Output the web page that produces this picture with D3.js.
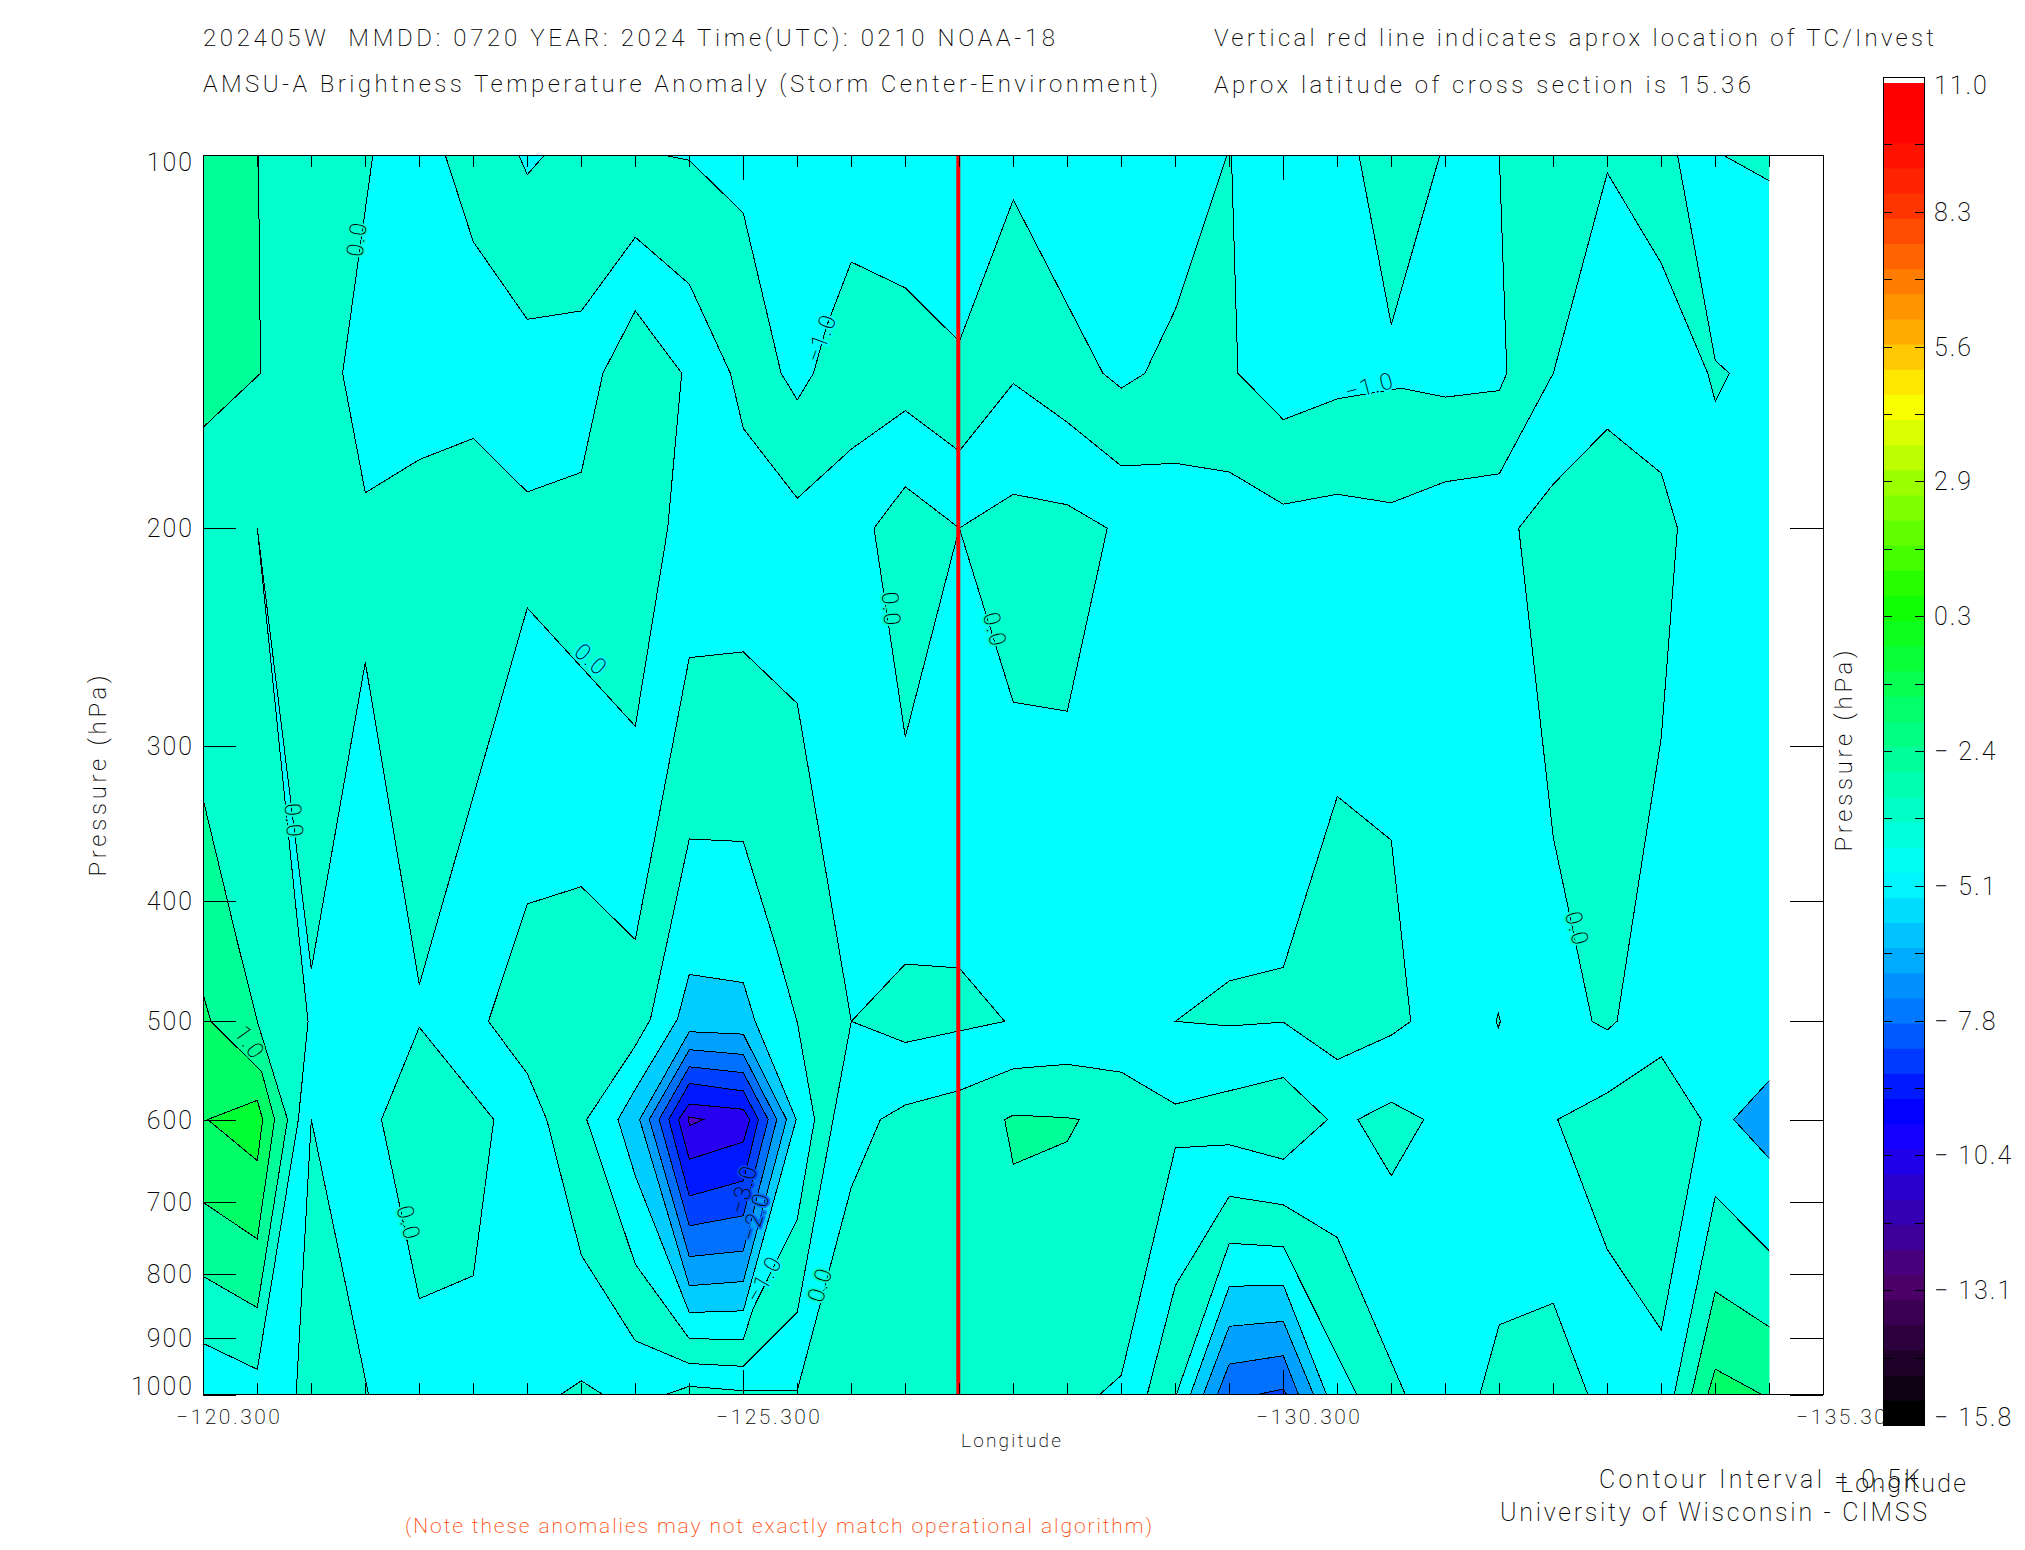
<!DOCTYPE html>
<html>
<head>
<meta charset="utf-8">
<script src="https://cdn.jsdelivr.net/npm/d3@7"></script>
<style>
html, body { margin: 0; padding: 0; background: white; }
svg { display: block; }
text { font-family: Roboto, "Liberation Sans", sans-serif; font-weight: 200; fill: black; white-space: pre; }
</style>
</head>
<body>
<script>
// tick labels
let pressureTicks = [100, 200, 300, 400, 500, 600, 700, 800, 900, 1000];
let lonLabels = [-120.3, -125.3, -130.3, -135.3];
let lonMinorTicks = [-120.8, -121.3, -121.8, -122.3, -122.8, -123.3, -123.8, -124.3, -124.8, -125.8, -126.3, -126.8, -127.3, -127.8, -128.3, -128.8, -129.3, -129.8, -130.8, -131.3, -131.8, -132.3, -132.8, -133.3, -133.8, -134.3, -134.8];
let colorbarLabels = [11.0, 8.3, 5.6, 2.9, 0.3, -2.4, -5.1, -7.8, -10.4, -13.1, -15.8];
let colorbarTicks = [9.66, 8.32, 6.98, 5.64, 4.3, 2.96, 1.62, 0.28, -1.06, -2.4, -3.74, -5.08, -6.42, -7.76, -9.1, -10.44, -11.78, -13.12, -14.46];
let stormLon = -127.3;

// contour regions, [longitude, hPa]. first group is the 0 / -1 band
let bandAqua = [
    // big area on the left
    [[-120, 95], [-121.87, 95], [-121.87, 100], [-121.59, 150], [-121.8, 187.3], [-122.3, 176.1], [-122.8, 169.3], [-123.3, 187], [-123.8, 180.3], [-124, 150], [-124.3, 133.6], [-124.73, 150], [-124.6, 200], [-124.3, 289], [-123.3, 232], [-122.3, 467], [-121.8, 256.6], [-121.3, 453.9], [-120.8, 200], [-121.15, 399], [-121.27, 500], [-121.18, 600], [-120.8, 954.3], [-120.3, 909.6], [-120, 895]],
    // top band
    [[-122.54, 95], [-122.54, 100], [-122.8, 117.5], [-123.3, 135.7], [-123.8, 133.6], [-124.3, 116.5], [-124.8, 127.1], [-125.18, 150], [-125.3, 166.2], [-125.8, 189.2], [-126.3, 172.7], [-126.8, 160.8], [-127.3, 173.3], [-127.8, 152.9], [-128.3, 164.3], [-128.8, 178.2], [-129.3, 177.3], [-129.8, 180.2], [-130.3, 191.3], [-130.8, 187.8], [-131.3, 190.8], [-131.8, 183.5], [-132.3, 180.8], [-132.8, 150], [-133.3, 103.4], [-133.8, 122.3], [-134.23, 150], [-134.3, 158], [-134.43, 150], [-134.3, 146.5], [-133.95, 100], [-133.95, 95], [-132.3, 95], [-132.3, 100], [-132.37, 150], [-132.3, 154.9], [-131.8, 156.8], [-131.39, 154.2], [-130.8, 157.3], [-130.3, 163.5], [-129.88, 150], [-129.82, 100], [-129.82, 95], [-129.78, 95], [-129.78, 100], [-129.3, 133.3], [-129.07, 146.75], [-129.02, 150], [-128.8, 154.2], [-128.63, 150], [-127.8, 108.7], [-127.3, 141.4], [-126.8, 128], [-126.3, 122], [-126.07, 137.5], [-125.95, 150], [-125.8, 157.6], [-125.65, 150], [-125.3, 111.4], [-124.8, 101], [-124.56, 100], [-124.56, 95], [-123.46, 95], [-123.46, 100], [-123.3, 103.7], [-123.22, 100], [-123.22, 95]],
    [[-131, 95], [-131, 100], [-131.3, 137.1], [-131.75, 100], [-131.75, 95]],
    [[-134.37, 95], [-134.37, 100], [-134.8, 104.9], [-135.2, 109.5], [-135.2, 95]],
    // around the red line
    [[-126.51, 200], [-126.8, 185.2], [-127.3, 200], [-126.8, 294.8]],
    [[-127.3, 200], [-127.8, 187.8], [-128.3, 191.5], [-128.67, 200], [-128.3, 281], [-127.8, 276.4]],
    [[-126.3, 500], [-126.8, 449.5], [-127.3, 452.8], [-127.72, 500], [-127.3, 509], [-126.8, 520]],
    // right side
    [[-132.48, 200], [-132.8, 184.3], [-133.3, 166.4], [-133.8, 180.6], [-133.95, 200], [-133.8, 295.1], [-133.39, 500], [-133.3, 508], [-133.16, 500], [-132.8, 355.4]],
    [[-129.3, 500], [-129.8, 463.8], [-130.3, 452.3], [-130.8, 329.2], [-131.3, 357.1], [-131.48, 500], [-131.3, 513], [-130.8, 536.8], [-130.3, 500.7], [-129.8, 504.3]],
    [[-132.27, 500], [-132.29, 492.5], [-132.31, 500], [-132.29, 506]],
    // ring round the storm
    [[-122.94, 500], [-123.3, 402], [-123.8, 389.3], [-124.3, 429.5], [-124.8, 254.4], [-125.3, 251.7], [-125.8, 277], [-126.3, 500], [-125.8, 858], [-125.3, 949], [-124.8, 944], [-124.3, 905], [-123.8, 772], [-123.48, 600], [-123.3, 551]],
    [[-121.95, 600], [-122.3, 505.5], [-122.99, 600], [-122.8, 802], [-122.3, 837]],
    [[-121.16, 1050], [-121.16, 1000], [-121.3, 600], [-121.83, 1000], [-121.83, 1050]],
    [[-123.61, 1050], [-123.61, 1000], [-123.8, 975], [-124, 1000], [-124, 1050]],
    // lower middle
    [[-124.58, 1050], [-124.58, 1000], [-124.8, 985], [-125.3, 993], [-125.8, 992], [-126.3, 680.6], [-126.57, 600], [-126.8, 584], [-127.3, 568.5], [-127.8, 546], [-128.3, 541.5], [-128.8, 549.5], [-129.3, 583], [-130.3, 555], [-130.71, 600], [-130.3, 646], [-129.8, 628.8], [-129.3, 632.4], [-128.8, 965], [-128.6, 1000], [-128.6, 1050]],
    [[-129.04, 1050], [-129.04, 1000], [-129.3, 817], [-129.8, 692], [-130.3, 703], [-130.8, 747], [-131.43, 1000], [-131.43, 1050]],
    [[-132.12, 1050], [-132.12, 1000], [-132.3, 878.5], [-132.8, 844], [-133.12, 1000], [-133.12, 1050]],
    [[-130.99, 600], [-131.3, 581], [-131.6, 600], [-131.3, 666]],
    [[-132.84, 600], [-133.3, 571], [-133.8, 534], [-134.17, 600], [-133.8, 887], [-133.3, 764]],
    [[-133.92, 1050], [-133.92, 1000], [-134.3, 692], [-134.8, 766], [-135.2, 823], [-135.2, 1050]]
];
let bandSpring = [
    [[-120, 95], [-120.81, 95], [-120.81, 100], [-120.83, 150], [-120.3, 165.8], [-120, 175.8]],
    [[-120, 258], [-120.61, 429.5], [-120.8, 500], [-121.08, 600], [-120.8, 851], [-120.3, 803], [-120, 770]],
    [[-127.72, 600], [-127.8, 595], [-128.3, 598], [-128.41, 600], [-128.3, 625], [-127.8, 652]],
    [[-134.08, 1050], [-134.08, 1000], [-134.3, 826], [-134.8, 882], [-135.2, 929], [-135.2, 1050]]
];
let bandGreen = [
    [[-120, 386], [-120.37, 500], [-120.84, 549], [-120.96, 600], [-120.8, 749], [-120.3, 700], [-120, 678]],
    [[-134.23, 1050], [-134.23, 1000], [-134.3, 954], [-134.73, 1000], [-134.73, 1050]]
];
let bandLime = [
    [[-120.34, 600], [-120.8, 579], [-120.85, 600], [-120.8, 647.6]]
];
let bandCyanInner = [
    [[-124.8, 356.3], [-125.3, 358], [-125.61, 437.4], [-125.8, 501], [-125.96, 600], [-125.8, 722], [-125.39, 852.6], [-125.3, 903], [-124.8, 901.5], [-124.3, 785], [-123.85, 600], [-124.3, 523.3], [-124.44, 498], [-124.58, 437.4]],
    [[-129.31, 1050], [-129.31, 1000], [-129.8, 755], [-130.3, 760], [-130.98, 1000], [-130.98, 1050]]
];
let bandSky = [
    [[-124.8, 458.2], [-125.3, 465.3], [-125.41, 500], [-125.79, 600], [-125.3, 856], [-124.8, 858.7], [-124.3, 666.3], [-124.14, 600], [-124.3, 567.3], [-124.69, 498]],
    [[-129.44, 1050], [-129.44, 1000], [-129.8, 818], [-130.3, 816], [-130.7, 1000], [-130.7, 1050]]
];
let bandAzure = [
    [[-124.8, 509.7], [-125.3, 512], [-125.7, 600], [-125.3, 810.7], [-124.8, 817], [-124.34, 600]],
    [[-129.56, 1050], [-129.56, 1000], [-129.8, 881], [-130.3, 873], [-130.58, 1000], [-130.58, 1050]],
    [[-135.2, 519], [-134.8, 558], [-134.47, 600], [-134.8, 645], [-135.2, 711]]
];
let bandBlue1 = [
    [[-124.8, 527], [-125.3, 531.7], [-125.61, 600], [-125.3, 766], [-124.8, 774], [-124.43, 600]],
    [[-129.69, 1050], [-129.69, 1000], [-129.8, 945], [-130.3, 930.5], [-130.44, 1000], [-130.44, 1050]]
];
let bandBlue2 = [
    [[-124.8, 544], [-125.3, 550], [-125.53, 600], [-125.3, 717.5], [-124.8, 731], [-124.52, 600]],
    [[-130.06, 1050], [-130.06, 1000], [-130.3, 990], [-130.33, 1000], [-130.33, 1050]]
];
let bandBlue3 = [
    [[-124.8, 561], [-125.3, 569], [-125.44, 600], [-125.3, 672.5], [-124.8, 691.6], [-124.61, 600]]
];
let bandIndigo = [
    [[-124.8, 583], [-125.3, 588.7], [-125.36, 600], [-125.3, 625.5], [-124.8, 646], [-124.7, 600]]
];
let bandViolet = [
    [[-124.79, 597], [-124.93, 600], [-124.8, 607]]
];

// contour labels
let contourLabels = ['0.0', '\u22121.0', '\u22121.0', '0.0', '0.0', '0.0', '0.0', '1.0', '0.0', '0.0', '0.0', '\u22121.0', '\u22122.0', '\u22123.0'];
let contourLabelLon = [-121.72, -126.02, -131.1, -123.89, -126.67, -127.63, -121.14, -120.73, -133.02, -122.2, -126.01, -125.49, -125.41, -125.3];
let contourLabelHpa = [116.9, 140.5, 153.6, 255.3, 232.5, 241.5, 344.4, 520, 421, 727, 815.5, 807, 718.5, 683];
let contourLabelAngle = [-82, -70, -15, 42, 85, 75, 85, 55, 75, 75, -72, -60, -73, -75];
let contourLabelGap = ['#00ffcc', '#00ffff', '#00ffff', '#00ffff', '#00ffcc', '#00ffcc', '#00ffcc', '#00ff99', '#00ffcc', '#00ffcc', '#00ffcc', '#00ffff', '#0070ff', '#0040ff'];

// colorbar colour stops
let stopValues = [-15.8, -13.1, -10.4, -9.7, -7.8, -5.1, -2.4, 0.3, 2.9, 4.3, 5.6, 8.3, 9.8, 10.8];
let stopColors = ['#000000', '#50006e', '#1800ff', '#0000ff', '#0078ff', '#00ffff', '#00ff88', '#10ff00', '#a8ff00', '#ffff00', '#ffb000', '#ff3000', '#ff0000', '#ff0000'];

let svg = d3.select('body')
    .append('svg')
    .attr('width', 2025)
    .attr('height', 1550);

let plotLeft = 203.3, plotRight = 1823.3, plotTop = 155, plotBottom = 1394.5;

let x = d3.scaleLinear().domain([-120.3, -135.3]).range([plotLeft, plotRight]);
let y = d3.scaleLog().domain([100, 1000]).range([plotTop, plotBottom]);

let line = d3.line()
    .x(d => x(d[0]))
    .y(d => y(d[1]))
    .curve(d3.curveLinearClosed);

svg.append('clipPath')
    .attr('id', 'dataClip')
    .append('rect')
    .attr('x', x(-120.3))
    .attr('y', y(100))
    .attr('width', x(-134.8) - x(-120.3))
    .attr('height', y(1000) - y(100));

let field = svg.append('g').attr('clip-path', 'url(#dataClip)');

field.append('rect')
    .attr('x', x(-120.3))
    .attr('y', y(100))
    .attr('width', x(-134.8) - x(-120.3))
    .attr('height', y(1000) - y(100))
    .attr('fill', '#00ffff');

function drawBand(polys, color) {
    field.selectAll(null)
        .data(polys)
        .enter()
        .append('path')
        .attr('d', line)
        .attr('fill', color)
        .attr('stroke', 'black')
        .attr('stroke-width', 1)
        .attr('shape-rendering', 'crispEdges');
}

drawBand(bandAqua, '#00ffcc');
drawBand(bandSpring, '#00ff99');
drawBand(bandGreen, '#00ff66');
drawBand(bandLime, '#00ff33');
drawBand(bandCyanInner, '#00ffff');
drawBand(bandSky, '#00ccff');
drawBand(bandAzure, '#00a0ff');
drawBand(bandBlue1, '#0070ff');
drawBand(bandBlue2, '#0040ff');
drawBand(bandBlue3, '#0018ff');
drawBand(bandIndigo, '#2800f0');
drawBand(bandViolet, '#5000c0');

// contour labels, the stroke makes the gap in the line
field.selectAll(null)
    .data(contourLabels)
    .enter()
    .append('text')
    .attr('transform', (d, i) => `translate(${x(contourLabelLon[i])},${y(contourLabelHpa[i])}) rotate(${contourLabelAngle[i]})`)
    .attr('text-anchor', 'middle')
    .attr('dy', 8)
    .attr('font-size', 23)
    .attr('letter-spacing', 1.5)
    .attr('stroke', (d, i) => contourLabelGap[i])
    .attr('stroke-width', 4)
    .attr('paint-order', 'stroke')
    .text(d => d);

// red line
svg.append('line')
    .attr('x1', x(stormLon) - 1)
    .attr('x2', x(stormLon) - 1)
    .attr('y1', y(100))
    .attr('y2', y(1000))
    .attr('stroke', '#ff0000')
    .attr('stroke-width', 4);

// frame and ticks
svg.append('rect')
    .attr('x', plotLeft)
    .attr('y', plotTop)
    .attr('width', plotRight - plotLeft)
    .attr('height', plotBottom - plotTop)
    .attr('fill', 'none')
    .attr('stroke', 'black')
    .attr('stroke-width', 1)
    .attr('shape-rendering', 'crispEdges');

function styleAxis(g) {
    g.selectAll('.domain').remove();
    g.selectAll('line').attr('stroke', 'black').attr('shape-rendering', 'crispEdges');
    g.selectAll('text').remove();
}

svg.append('g').attr('transform', `translate(0,${plotTop})`).call(d3.axisBottom(x).tickValues(lonMinorTicks).tickSize(12)).call(styleAxis);
svg.append('g').attr('transform', `translate(0,${plotTop})`).call(d3.axisBottom(x).tickValues(lonLabels).tickSize(25)).call(styleAxis);
svg.append('g').attr('transform', `translate(0,${plotBottom})`).call(d3.axisTop(x).tickValues(lonMinorTicks).tickSize(12)).call(styleAxis);
svg.append('g').attr('transform', `translate(0,${plotBottom})`).call(d3.axisTop(x).tickValues(lonLabels).tickSize(25)).call(styleAxis);
svg.append('g').attr('transform', `translate(${plotLeft},0)`).call(d3.axisRight(y).tickValues(pressureTicks).tickSize(33)).call(styleAxis);
svg.append('g').attr('transform', `translate(${plotRight},0)`).call(d3.axisLeft(y).tickValues(pressureTicks).tickSize(33)).call(styleAxis);

// pressure tick labels, first and last pulled inside a bit like the original
svg.selectAll(null)
    .data(pressureTicks)
    .enter()
    .append('text')
    .attr('x', 194)
    .attr('y', d => y(d) + 9 + (d == 100 ? 7 : d == 1000 ? -9 : 0))
    .attr('text-anchor', 'end')
    .attr('font-size', 25)
    .attr('letter-spacing', 2)
    .text(d => d);

svg.selectAll(null)
    .data(lonLabels)
    .enter()
    .append('text')
    .attr('x', d => x(d) + 26)
    .attr('y', 1424)
    .attr('text-anchor', 'middle')
    .attr('font-size', 21)
    .attr('letter-spacing', 2.5)
    .text(d => '\u2212' + Math.abs(d).toFixed(3));

// colorbar, drawn after the axis labels since it covers the last one
let barY = d3.scaleLinear().domain([11, -15.8]).range([77, 1425]);
let barColor = d3.scaleLinear().domain(stopValues).range(stopColors);
let barSteps = d3.range(-15.8, 10.8, 0.5);

svg.selectAll(null)
    .data(barSteps)
    .enter()
    .append('rect')
    .attr('x', 1883)
    .attr('y', d => barY(Math.min(d + 0.5, 11)))
    .attr('width', 41)
    .attr('height', d => barY(d) - barY(Math.min(d + 0.5, 11)) + 1)
    .attr('fill', d => barColor(d));

svg.append('rect')
    .attr('x', 1883)
    .attr('y', 77)
    .attr('width', 41)
    .attr('height', 6)
    .attr('fill', 'white');

svg.append('rect')
    .attr('x', 1883)
    .attr('y', 77)
    .attr('width', 41)
    .attr('height', 1348)
    .attr('fill', 'none')
    .attr('stroke', 'black')
    .attr('stroke-width', 1)
    .attr('shape-rendering', 'crispEdges');

svg.append('g').attr('transform', 'translate(1883,0)').call(d3.axisRight(barY).tickValues(colorbarTicks).tickSize(9)).call(styleAxis);
svg.append('g').attr('transform', 'translate(1924,0)').call(d3.axisLeft(barY).tickValues(colorbarTicks).tickSize(9)).call(styleAxis);

svg.selectAll(null)
    .data(colorbarLabels)
    .enter()
    .append('text')
    .attr('x', 1934)
    .attr('y', (d, i) => barY(11) + i * 134.8 + 9 + (i == 0 ? 8 : i == 10 ? -8 : 0))
    .attr('font-size', 25)
    .attr('letter-spacing', 2)
    .text(d => (d < 0 ? '\u2212 ' + Math.abs(d).toFixed(1) : d.toFixed(1)));

// titles and notes
let notes = [
    ['202405W  MMDD: 0720 YEAR: 2024 Time(UTC): 0210 NOAA-18', 203, 46, 852, 24, 'black'],
    ['AMSU-A Brightness Temperature Anomaly (Storm Center-Environment)', 203, 92, 955, 24, 'black'],
    ['Vertical red line indicates aprox location of TC/Invest', 1214, 46, 720, 24, 'black'],
    ['Aprox latitude of cross section is 15.36', 1214, 93, 537, 24, 'black'],
    ['Longitude', 961, 1447, 100, 19, 'black'],
    ['Contour Interval = 0.5K', 1599, 1488, 321, 25, 'black'],
    ['Longitude', 1840, 1492, 126, 25, 'black'],
    ['University of Wisconsin - CIMSS', 1500, 1521, 427, 25, 'black'],
    ['(Note these anomalies may not exactly match operational algorithm)', 405, 1533, 747, 21, '#ff4400']
];

svg.selectAll(null)
    .data(notes)
    .enter()
    .append('text')
    .attr('x', d => d[1])
    .attr('y', d => d[2])
    .attr('textLength', d => d[3])
    .attr('lengthAdjust', 'spacing')
    .attr('font-size', d => d[4])
    .style('fill', d => d[5])
    .text(d => d[0]);

let sideLabels = [[106, 776], [1852, 751]];
svg.selectAll(null)
    .data(sideLabels)
    .enter()
    .append('text')
    .attr('transform', d => `translate(${d[0]},${d[1]}) rotate(-90)`)
    .attr('text-anchor', 'middle')
    .attr('textLength', 201)
    .attr('lengthAdjust', 'spacing')
    .attr('font-size', 24)
    .text('Pressure (hPa)');
</script>
</body>
</html>
